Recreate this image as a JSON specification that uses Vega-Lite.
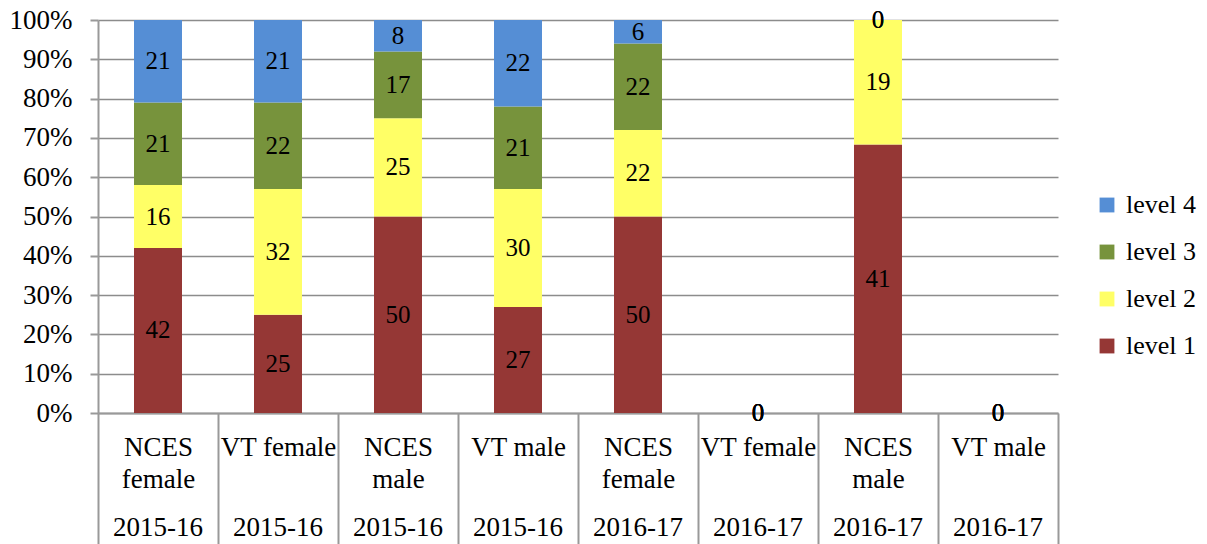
{
  "$schema": "https://vega.github.io/schema/vega-lite/v6.json",
  "width": 960,
  "height": 393,
  "autosize": "none",
  "padding": {"left": 98, "top": 20, "right": 149, "bottom": 131},
  "background": "white",
  "config": {
    "view": {"stroke": null},
    "font": "'Liberation Serif', 'DejaVu Serif', serif"
  },
  "data": {
    "values": [
      {"cat": "NCES~female|2015-16", "level": "level 1", "value": 42},
      {"cat": "NCES~female|2015-16", "level": "level 2", "value": 16},
      {"cat": "NCES~female|2015-16", "level": "level 3", "value": 21},
      {"cat": "NCES~female|2015-16", "level": "level 4", "value": 21},
      {"cat": "VT female|2015-16", "level": "level 1", "value": 25},
      {"cat": "VT female|2015-16", "level": "level 2", "value": 32},
      {"cat": "VT female|2015-16", "level": "level 3", "value": 22},
      {"cat": "VT female|2015-16", "level": "level 4", "value": 21},
      {"cat": "NCES~male|2015-16", "level": "level 1", "value": 50},
      {"cat": "NCES~male|2015-16", "level": "level 2", "value": 25},
      {"cat": "NCES~male|2015-16", "level": "level 3", "value": 17},
      {"cat": "NCES~male|2015-16", "level": "level 4", "value": 8},
      {"cat": "VT male|2015-16", "level": "level 1", "value": 27},
      {"cat": "VT male|2015-16", "level": "level 2", "value": 30},
      {"cat": "VT male|2015-16", "level": "level 3", "value": 21},
      {"cat": "VT male|2015-16", "level": "level 4", "value": 22},
      {"cat": "NCES~female|2016-17", "level": "level 1", "value": 50},
      {"cat": "NCES~female|2016-17", "level": "level 2", "value": 22},
      {"cat": "NCES~female|2016-17", "level": "level 3", "value": 22},
      {"cat": "NCES~female|2016-17", "level": "level 4", "value": 6},
      {"cat": "VT female|2016-17", "level": "level 1", "value": 0},
      {"cat": "VT female|2016-17", "level": "level 2", "value": 0},
      {"cat": "VT female|2016-17", "level": "level 3", "value": 0},
      {"cat": "VT female|2016-17", "level": "level 4", "value": 0},
      {"cat": "NCES~male|2016-17", "level": "level 1", "value": 41},
      {"cat": "NCES~male|2016-17", "level": "level 2", "value": 19},
      {"cat": "NCES~male|2016-17", "level": "level 3", "value": 0},
      {"cat": "NCES~male|2016-17", "level": "level 4", "value": 0},
      {"cat": "VT male|2016-17", "level": "level 1", "value": 0},
      {"cat": "VT male|2016-17", "level": "level 2", "value": 0},
      {"cat": "VT male|2016-17", "level": "level 3", "value": 0},
      {"cat": "VT male|2016-17", "level": "level 4", "value": 0}
    ]
  },
  "transform": [
    {"stack": "value", "groupby": ["cat"], "offset": "normalize", "sort": [{"field": "level", "order": "ascending"}], "as": ["y0", "y1"]},
    {"calculate": "isValid(datum.y0) && isFinite(datum.y0) ? datum.y0 : 0", "as": "y0"},
    {"calculate": "isValid(datum.y1) && isFinite(datum.y1) ? datum.y1 : 0", "as": "y1"},
    {"calculate": "(datum.y0 + datum.y1) / 2", "as": "ymid"}
  ],
  "resolve": {"axis": {"x": "independent"}},
  "layer": [
    {
      "mark": {"type": "bar", "width": {"band": 0.4}},
      "encoding": {
        "x": {
          "field": "cat",
          "type": "nominal",
          "sort": null,
          "scale": {"paddingInner": 0, "paddingOuter": 0},
          "axis": {
            "orient": "bottom",
            "title": null,
            "labelAngle": 0,
            "labelExpr": "split(split(datum.label, '|')[0], '~')",
            "labelLineHeight": 32,
            "labelFont": "'Liberation Serif', 'DejaVu Serif', serif",
            "labelFontSize": 27,
            "labelColor": "black",
            "labelPadding": -110,
            "labelBaseline": "top",
            "labelOverlap": false,
            "tickBand": "extent",
            "tickSize": 131,
            "tickColor": "#999999",
            "tickWidth": 2,
            "domainColor": "#999999",
            "domainWidth": 2,
            "grid": false
          }
        },
        "y": {
          "field": "y0",
          "type": "quantitative",
          "scale": {"domain": [0, 1]},
          "axis": {
            "title": null,
            "values": [0, 0.1, 0.2, 0.3, 0.4, 0.5, 0.6, 0.7, 0.8, 0.9, 1],
            "format": ".0%",
            "labelOverlap": false,
            "labelFont": "'Liberation Serif', 'DejaVu Serif', serif",
            "labelFontSize": 27,
            "labelColor": "black",
            "labelPadding": 18,
            "tickSize": 8,
            "tickColor": "#999999",
            "tickWidth": 2,
            "domainColor": "#999999",
            "domainWidth": 2,
            "gridColor": "#8c8c8c",
            "gridWidth": 1.5
          }
        },
        "y2": {"field": "y1"},
        "color": {
          "field": "level",
          "type": "nominal",
          "scale": {
            "domain": ["level 4", "level 3", "level 2", "level 1"],
            "range": ["#558ED5", "#77933C", "#FFFF66", "#953735"]
          },
          "legend": {
            "title": null,
            "orient": "none",
            "legendX": 996,
            "legendY": 172,
            "symbolType": "square",
            "symbolSize": 220,
            "symbolStrokeWidth": 0,
            "symbolOpacity": 1,
            "labelFont": "'Liberation Serif', 'DejaVu Serif', serif",
            "labelFontSize": 26,
            "labelColor": "black",
            "labelOffset": 6,
            "rowPadding": 21
          }
        }
      }
    },
    {
      "mark": {"type": "text", "font": "'Liberation Serif', 'DejaVu Serif', serif", "fontSize": 25, "color": "black", "baseline": "middle"},
      "encoding": {
        "x": {
          "field": "cat",
          "type": "nominal",
          "sort": null,
          "axis": {
            "orient": "bottom",
            "title": null,
            "labelAngle": 0,
            "labelExpr": "split(datum.label, '|')[1]",
            "labelFont": "'Liberation Serif', 'DejaVu Serif', serif",
            "labelFontSize": 27,
            "labelColor": "black",
            "labelPadding": 101,
            "labelBaseline": "top",
            "labelOverlap": false,
            "ticks": false,
            "tickSize": 0,
            "domain": false,
            "grid": false
          }
        },
        "y": {
          "field": "ymid",
          "type": "quantitative",
          "axis": {
            "title": null,
            "values": [0, 0.1, 0.2, 0.3, 0.4, 0.5, 0.6, 0.7, 0.8, 0.9, 1],
            "format": ".0%",
            "labelOverlap": false,
            "labelFont": "'Liberation Serif', 'DejaVu Serif', serif",
            "labelFontSize": 27,
            "labelColor": "black",
            "labelPadding": 18,
            "tickSize": 8,
            "tickColor": "#999999",
            "tickWidth": 2,
            "domainColor": "#999999",
            "domainWidth": 2,
            "gridColor": "#8c8c8c",
            "gridWidth": 1.5
          }
        },
        "text": {"field": "value", "type": "quantitative"}
      }
    }
  ]
}
